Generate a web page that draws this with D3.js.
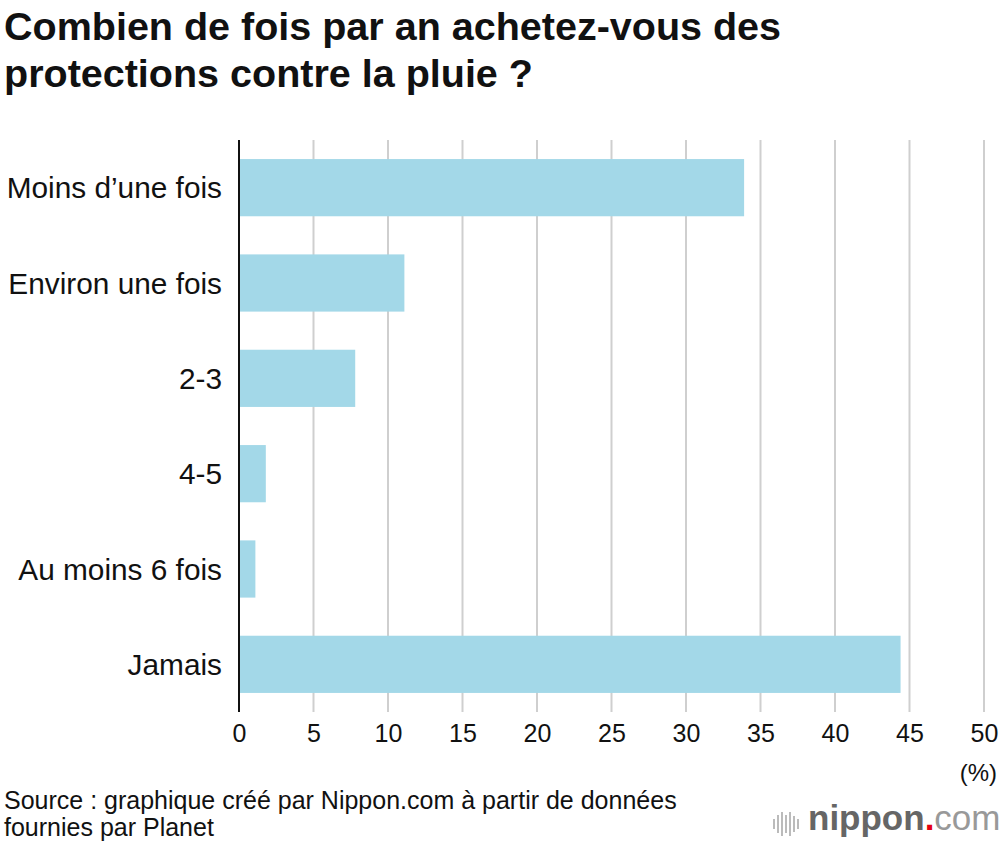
<!DOCTYPE html>
<html>
<head>
<meta charset="utf-8">
<script src="https://d3js.org/d3.v7.min.js"></script>
<style>
  body { margin: 0; background: #fff; }
  svg { font-family: "Liberation Sans", Arial, sans-serif; }
</style>
</head>
<body>
<svg id="chart" width="1000" height="842"></svg>
<script>
"use strict"

const categories = ["Moins d\u2019une fois", "Environ une fois", "2-3", "4-5", "Au moins 6 fois", "Jamais"]
const values = [33.9, 11.1, 7.8, 1.8, 1.1, 44.4]
const ticks = [0, 5, 10, 15, 20, 25, 30, 35, 40, 45, 50]

const svg = d3.select("#chart")

const x = d3.scaleLinear().domain([0, 50]).range([239, 984])
const y = d3.scaleBand().domain(categories).range([140, 712])
  .paddingInner(0.4).paddingOuter(0.2)

// title
svg.append("text")
  .attr("font-size", 39.5).attr("font-weight", "bold").attr("fill", "#111")
  .selectAll("tspan")
  .data(["Combien de fois par an achetez-vous des", "protections contre la pluie ?"])
  .enter().append("tspan")
    .attr("x", 4)
    .attr("y", (d, i) => 40 + i * 47)
    .text(d => d)

// gridlines
svg.append("g")
  .selectAll("line")
  .data(ticks.slice(1))
  .enter().append("line")
    .attr("x1", d => x(d)).attr("x2", d => x(d))
    .attr("y1", 140).attr("y2", 712)
    .attr("stroke", "#cfcfcf").attr("stroke-width", 2)

// bars
svg.append("g")
  .selectAll("rect")
  .data(values)
  .enter().append("rect")
    .attr("x", x(0))
    .attr("y", (d, i) => y(categories[i]))
    .attr("width", d => x(d) - x(0))
    .attr("height", y.bandwidth())
    .attr("fill", "#a3d8e8")

// y axis line
svg.append("line")
  .attr("x1", x(0)).attr("x2", x(0))
  .attr("y1", 140).attr("y2", 712)
  .attr("stroke", "#111").attr("stroke-width", 2)

// category labels
svg.append("g")
  .selectAll("text")
  .data(categories)
  .enter().append("text")
    .attr("x", 222)
    .attr("y", d => y(d) + y.bandwidth() / 2)
    .attr("dy", "0.36em")
    .attr("text-anchor", "end")
    .attr("font-size", 29.8).attr("fill", "#111")
    .text(d => d)

// x tick labels
const xAxis = d3.axisBottom(x).tickValues(ticks).tickSize(0).tickPadding(0)
const gx = svg.append("g").attr("transform", "translate(0,742)").call(xAxis)
gx.select(".domain").remove()
gx.selectAll("text")
  .attr("dy", 0)
  .attr("font-size", 25).attr("fill", "#111")
  .attr("font-family", "Liberation Sans, Arial, sans-serif")

svg.append("text")
  .attr("x", 997).attr("y", 781)
  .attr("text-anchor", "end")
  .attr("font-size", 24).attr("fill", "#111")
  .text("(%)")

// source
svg.append("g")
  .selectAll("text")
  .data(["Source : graphique cr\u00e9\u00e9 par Nippon.com \u00e0 partir de donn\u00e9es", "fournies par Planet"])
  .enter().append("text")
    .attr("x", 4)
    .attr("y", (d, i) => 809 + i * 27)
    .attr("font-size", 25).attr("fill", "#111")
    .text(d => d)

// logo
const logo = svg.append("g").attr("transform", "translate(773,0)")
const iconBars = [[1, 819, 829], [5, 815, 833], [9, 812, 836], [13, 815, 833], [17, 812, 836], [21, 816, 832], [25, 819, 829]]
logo.selectAll("line")
  .data(iconBars)
  .enter().append("line")
    .attr("x1", d => d[0]).attr("x2", d => d[0])
    .attr("y1", d => d[1]).attr("y2", d => d[2])
    .attr("stroke", "#bbb").attr("stroke-width", 2)
const lt = logo.append("text")
  .attr("x", 35).attr("y", 830)
  .attr("font-size", 35)
lt.append("tspan").attr("font-weight", "bold").attr("fill", "#666").text("nippon")
lt.append("tspan").attr("fill", "#e60012").attr("font-weight", "bold").text(".")
lt.append("tspan").attr("fill", "#999").text("com")
</script>
</body>
</html>
